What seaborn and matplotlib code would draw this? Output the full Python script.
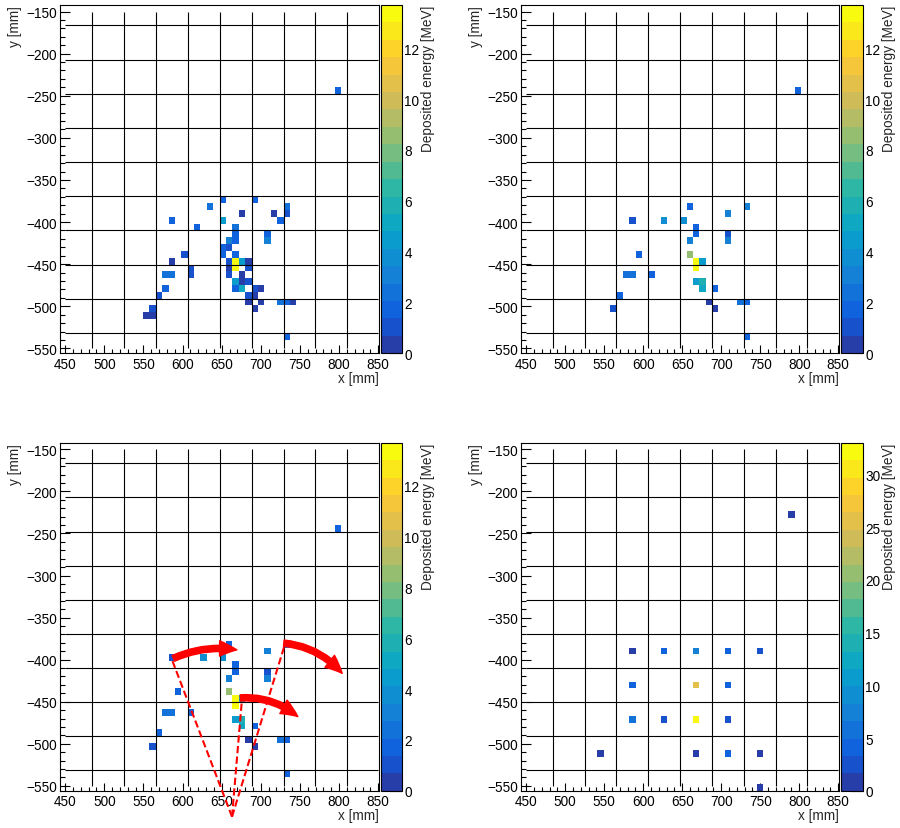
import numpy as np
import matplotlib
matplotlib.use("Agg")
import matplotlib.pyplot as plt
from matplotlib.colors import LinearSegmentedColormap, ListedColormap
from matplotlib.ticker import MultipleLocator
import seaborn as sns

sns.set_style("ticks")
plt.rcParams["font.family"] = ["Liberation Sans", "DejaVu Sans"]
plt.rcParams["font.size"] = 9.8
plt.rcParams["axes.edgecolor"] = "black"
plt.rcParams["axes.linewidth"] = 0.8
plt.rcParams["xtick.color"] = "black"
plt.rcParams["ytick.color"] = "black"

# %% hits: cell centre x [mm], y [mm], energy [MeV]

# top left: all hits
all_x = [651.5, 692.3, 635.2, 733.1, 676.0, 716.8, 733.1, 586.2, 651.5, 724.9,
         618.8, 667.8, 667.8, 708.6, 659.6, 667.8, 708.6, 651.5, 659.6, 602.5,
         651.5, 667.8, 586.2, 659.6, 667.8, 676.0, 684.1, 610.7, 659.6, 667.8,
         684.1, 578.0, 586.2, 610.7, 659.6, 676.0, 667.8, 676.0, 684.1, 578.0,
         667.8, 676.0, 692.3, 700.4, 569.9, 684.1, 692.3, 684.1, 700.4, 724.9,
         733.1, 741.2, 561.7, 692.3, 553.6, 561.7, 733.1, 798.4]
all_y = [-373.4, -373.4, -381.5, -381.5, -389.6, -389.6, -389.6, -397.7, -397.7, -397.7,
         -405.8, -405.8, -414.0, -414.0, -422.1, -422.1, -422.1, -430.2, -430.2, -438.3,
         -438.3, -438.3, -446.4, -446.4, -446.4, -446.4, -446.4, -454.5, -454.5, -454.5,
         -454.5, -462.6, -462.6, -462.6, -462.6, -462.6, -470.7, -470.7, -470.7, -478.8,
         -478.8, -478.8, -478.8, -478.8, -486.9, -486.9, -486.9, -495.1, -495.1, -495.1,
         -495.1, -495.1, -503.2, -503.2, -511.3, -511.3, -535.6, -243.6]
all_e = [1.6, 1.6, 2.6, 2.2, 0.4, 0.4, 1.2, 1.4, 4.2, 1.6,
         1.6, 2.6, 1.5, 1.4, 2.8, 1.4, 2.8, 1.5, 1.2, 1.2,
         1.5, 1.5, 0.5, 1.0, 13.7, 4.5, 0.5, 1.2, 0.6, 13.2,
         1.2, 2.6, 2.6, 1.2, 1.3, 0.5, 4.5, 0.5, 1.2, 1.6,
         1.5, 4.8, 1.2, 0.5, 1.3, 1.2, 0.6, 0.5, 0.5, 2.6,
         1.6, 0.6, 1.3, 0.5, 0.6, 0.6, 1.5, 1.6]

# top right and bottom left: hits kept after selection
sel_x = [798.4, 659.6, 733.1, 708.6, 586.2, 627.0, 651.5, 667.8, 667.8, 708.6,
         659.6, 708.6, 594.4, 659.6, 667.8, 676.0, 667.8, 578.0, 586.2, 610.7,
         667.8, 676.0, 676.0, 692.3, 569.9, 684.1, 724.9, 733.1, 561.7, 692.3,
         733.1]
sel_y = [-243.6, -381.5, -381.5, -389.6, -397.7, -397.7, -397.7, -405.8, -414.0, -414.0,
         -422.1, -422.1, -438.3, -438.3, -446.4, -446.4, -454.5, -462.6, -462.6, -462.6,
         -470.7, -470.7, -478.8, -478.8, -486.9, -495.1, -495.1, -495.1, -503.2, -503.2,
         -535.6]
sel_e = [1.6, 1.7, 3.0, 2.8, 1.3, 3.9, 3.8, 1.6, 1.4, 1.1,
         2.8, 2.8, 1.7, 8.6, 13.7, 4.3, 13.3, 2.4, 2.4, 1.6,
         4.5, 5.6, 5.3, 1.5, 1.6, 0.5, 2.6, 2.0, 1.3, 0.5,
         1.5]

# bottom right: energy summed per module, drawn at module centre
mod_x = [586.2, 627.0, 667.8, 708.6, 749.4, 586.2, 667.8, 708.6, 586.2, 627.0,
         667.8, 708.6, 545.4, 667.8, 708.6, 749.4, 749.4, 790.2]
mod_y = [-389.6, -389.6, -389.6, -389.6, -389.6, -430.2, -430.2, -430.2, -470.7, -470.7,
         -470.7, -470.7, -511.3, -511.3, -511.3, -511.3, -551.8, -227.4]
mod_e = [1.0, 3.8, 7.0, 3.5, 2.5, 3.8, 26.0, 3.8, 6.3, 3.2,
         33.0, 3.0, 1.0, 1.0, 3.5, 1.0, 1.0, 1.2]

# %% detector geometry (5x5 cells per module)
X0, CELL_X = 443.4, 8.16
Y0, CELL_Y = -166.6, 8.11
x_edges = X0 + CELL_X * np.arange(51)
y_edges = Y0 + CELL_Y * np.arange(-48, 4)
module_x_lines = X0 + 5 * CELL_X * np.arange(1, 10)
module_y_lines = Y0 - 5 * CELL_Y * np.arange(10)

# ROOT kBird palette with 20 contour levels
stops = [0.0, 0.125, 0.25, 0.375, 0.5, 0.625, 0.75, 0.875, 1.0]
red = [0.2082, 0.0592, 0.0780, 0.0232, 0.1802, 0.5301, 0.8186, 0.9956, 0.9764]
green = [0.1664, 0.3599, 0.5041, 0.6419, 0.7178, 0.7492, 0.7328, 0.7862, 0.9832]
blue = [0.5293, 0.8684, 0.8385, 0.7914, 0.6425, 0.4662, 0.3499, 0.1968, 0.0539]
bird = LinearSegmentedColormap.from_list("bird", list(zip(stops, zip(red, green, blue))))
cmap = ListedColormap(bird((np.arange(20) + 0.99) / 20))

# %%
W, H = 900, 829
fig = plt.figure(figsize=(W / 100, H / 100), dpi=100)


def px_axes(l, t, r, b):
    return fig.add_axes([l / W, 1 - b / H, (r - l) / W, (b - t) / H])


def hitmap(ax, cax, xs, ys, es):
    sns.histplot(x=np.array(xs), y=np.array(ys), weights=np.array(es),
                 bins=(x_edges, y_edges), cmap=cmap, cbar=True, cbar_ax=cax, ax=ax)
    ax.set_xlim(x_edges[0], x_edges[-1])
    ax.set_ylim(y_edges[0], y_edges[-1])
    ax.vlines(module_x_lines, -550, -150, color="black", lw=0.8, zorder=3)
    ax.hlines(module_y_lines, 450, 850, color="black", lw=0.8, zorder=3)
    ax.xaxis.set_major_locator(MultipleLocator(50))
    ax.xaxis.set_minor_locator(MultipleLocator(10))
    ax.yaxis.set_major_locator(MultipleLocator(50))
    ax.yaxis.set_minor_locator(MultipleLocator(10))
    ax.tick_params(which="both", direction="in", top=False, right=False, width=0.8)
    ax.tick_params(axis="x", which="major", length=5.5, pad=2.5)
    ax.tick_params(axis="x", which="minor", length=3)
    ax.tick_params(axis="y", which="major", length=7.2, pad=2)
    ax.tick_params(axis="y", which="minor", length=3.6)
    ax.set_xlabel("x [mm]", loc="right", labelpad=0)
    ax.set_ylabel("y [mm]", loc="top", labelpad=3)

    cbar = ax.collections[0].colorbar
    cbar.outline.set_linewidth(0.8)
    cax.minorticks_off()
    cax.tick_params(direction="in", length=8.4, width=0.8, pad=2)
    cbar.set_label("Deposited energy [MeV]", loc="top", labelpad=1)


TOP, BOT = 6, 354.3
TOP2, BOT2 = 443.8, 791.8

ax_tl = px_axes(60, TOP, 379.3, BOT)
hitmap(ax_tl, px_axes(380.5, TOP, 401.7, BOT), all_x, all_y, all_e)

ax_tr = px_axes(521, TOP, 839.3, BOT)
hitmap(ax_tr, px_axes(840.7, TOP, 862.7, BOT), sel_x, sel_y, sel_e)

ax_bl = px_axes(60, TOP2, 379.3, BOT2)
hitmap(ax_bl, px_axes(380.5, TOP2, 401.7, BOT2), sel_x, sel_y, sel_e)

ax_br = px_axes(521, TOP2, 839.3, BOT2)
hitmap(ax_br, px_axes(840.7, TOP2, 862.7, BOT2), mod_x, mod_y, mod_e)

# cone and shower-direction sketch on the bottom-left map
apex = (663.2, -586.7)
for x_end, y_end in [(585.7, -398.2), (676.2, -444.0), (731.5, -379.6)]:
    ax_bl.plot([apex[0], x_end], [apex[1], y_end], color="red", lw=1.5,
               ls=(0, (3.5, 1.6)), clip_on=False, zorder=5)

for start, tip, rad in [((588.3, -398.5), (669.4, -388.4), -0.15),
                        ((729.4, -380.4), (804.0, -416.3), -0.2),
                        ((674.0, -445.5), (747.3, -467.7), -0.2)]:
    ax_bl.annotate("", xy=tip, xytext=start, annotation_clip=False, zorder=6,
                   arrowprops=dict(arrowstyle="simple,head_length=1.25,head_width=1.1,tail_width=0.45",
                                   connectionstyle="arc3,rad=%s" % rad, color="red",
                                   mutation_scale=10, shrinkA=0, shrinkB=0))

fig.savefig("out.png", dpi=100)
